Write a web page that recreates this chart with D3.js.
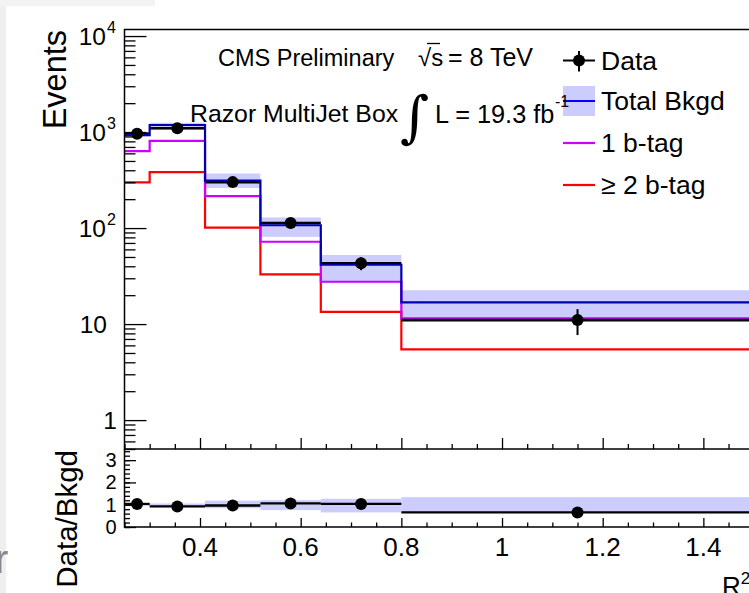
<!DOCTYPE html>
<html>
<head>
<meta charset="utf-8">
<script src="https://cdn.jsdelivr.net/npm/d3@7"></script>
<style>
  html, body { margin: 0; padding: 0; background: #fff; }
  svg { display: block; font-family: "Liberation Sans", Arial, Helvetica, sans-serif; }
</style>
</head>
<body>
<svg id="chart" width="749" height="593"></svg>
<script>
// Данные (читаются с картинки)
const binEdges = [0.25, 0.30, 0.41, 0.52, 0.64, 0.80, 1.50];
const dataCounts = [962, 1095, 301, 113, 43, 11];
const totalBkgd = [930, 1185, 312, 107, 41.5, 16.8];
const bkgdLow = [900, 1050, 262, 81, 27.2, 11.2];
const bkgdHigh = [1000, 1250, 370, 129, 52.5, 22.5];
const oneBtag = [634, 811, 215, 72, 27.6, 11.5];
const twoBtag = [299, 383, 101, 33, 13.4, 5.45];

const xTickValues = [0.4, 0.6, 0.8, 1.0, 1.2, 1.4];
const xTickLabels = ["0.4", "0.6", "0.8", "1", "1.2", "1.4"];
const yTickValues = [1, 10, 100, 1000, 10000];
const yTickBase = ["1", "10", "10", "10", "10"];
const yTickExp = ["", "", "2", "3", "4"];
const ratioTickValues = [0, 1, 2, 3];

const svg = d3.select("#chart");

// фон со следами скриншота
svg.append("rect").attr("width", 749).attr("height", 593).attr("fill", "#fff");
svg.append("rect").attr("x", 0).attr("y", 0).attr("width", 6).attr("height", 593).attr("fill", "#efefef");
svg.append("rect").attr("x", 0).attr("y", 0).attr("width", 155).attr("height", 6).attr("fill", "#f3f3f3");
svg.append("text").attr("x", -5).attr("y", 573).attr("font-size", 40).attr("fill", "#888").text("r");

// шкалы
const x = d3.scaleLinear().domain([0.25, 1.5]).range([124.5, 753.7]);
const y = d3.scaleLog().domain([0.5, 11700]).range([449, 29.5]);
const yr = d3.scaleLinear().domain([0, 3.5]).range([527, 449]);

const bins = d3.range(dataCounts.length);
const mid = (i) => x((binEdges[i] + binEdges[i + 1]) / 2);
const stepLine = (vals, ys) =>
  d3.line().curve(d3.curveStepAfter).x((d) => x(d[0])).y((d) => ys(d[1]))(
    binEdges.map((e, i) => [e, vals[Math.min(i, vals.length - 1)]])
  );

// ---- верхняя панель ----
const main = svg.append("g");

main.selectAll("rect.band").data(bins).enter().append("rect")
  .attr("x", (i) => x(binEdges[i]))
  .attr("width", (i) => x(binEdges[i + 1]) - x(binEdges[i]))
  .attr("y", (i) => y(bkgdHigh[i]))
  .attr("height", (i) => y(bkgdLow[i]) - y(bkgdHigh[i]))
  .attr("fill", "#ccccff");

main.append("path").attr("d", stepLine(twoBtag, y)).attr("fill", "none").attr("stroke", "#ff0000").attr("stroke-width", 2.2);
main.append("path").attr("d", stepLine(oneBtag, y)).attr("fill", "none").attr("stroke", "#cc00ff").attr("stroke-width", 2.2);

// горизонтальные "ошибки" данных по x
main.selectAll("line.dx").data(bins).enter().append("line")
  .attr("x1", (i) => x(binEdges[i])).attr("x2", (i) => x(binEdges[i + 1]))
  .attr("y1", (i) => y(dataCounts[i])).attr("y2", (i) => y(dataCounts[i]))
  .attr("stroke", "#000").attr("stroke-width", 2.6);

main.append("path").attr("d", stepLine(totalBkgd, y)).attr("fill", "none").attr("stroke", "#0000b0").attr("stroke-width", 2.2);

main.selectAll("line.dy").data(bins).enter().append("line")
  .attr("x1", mid).attr("x2", mid)
  .attr("y1", (i) => y(dataCounts[i] + Math.sqrt(dataCounts[i])))
  .attr("y2", (i) => y(dataCounts[i] - Math.sqrt(dataCounts[i])))
  .attr("stroke", "#000").attr("stroke-width", 2);

main.selectAll("circle").data(bins).enter().append("circle")
  .attr("cx", mid)
  .attr("cy", (i) => y(dataCounts[i]))
  .attr("r", 6).attr("fill", "#000");

// оси верхней панели
const minorLog = [];
[0.1, 1, 10, 100, 1000].forEach((d) => {
  for (let k = 2; k <= 9; k++) {
    const v = d * k;
    if (v >= 0.5 && v <= 11700) minorLog.push(v);
  }
});
main.append("g").attr("transform", "translate(124.5,0)")
  .call(d3.axisRight(y).tickValues(minorLog).tickSize(11).tickFormat(""))
  .call((g) => g.select(".domain").remove());
main.append("g").attr("transform", "translate(124.5,0)")
  .call(d3.axisRight(y).tickValues(yTickValues).tickSize(22).tickFormat(""))
  .call((g) => g.select(".domain").remove());

const xMinor = d3.range(0.25, 1.5001, 0.05).filter((v) => !xTickValues.some((t) => Math.abs(t - v) < 1e-6));
main.append("g").attr("transform", "translate(0,449)")
  .call(d3.axisTop(x).tickValues(xMinor).tickSize(5).tickFormat(""))
  .call((g) => g.select(".domain").remove());
main.append("g").attr("transform", "translate(0,449)")
  .call(d3.axisTop(x).tickValues(xTickValues).tickSize(11).tickFormat(""))
  .call((g) => g.select(".domain").remove());

svg.selectAll(".tick line").attr("stroke", "#000").attr("stroke-width", 1.3);

// рамка
main.append("path")
  .attr("d", `M753.7,449 H124.5 V29.5 H753.7`)
  .attr("fill", "none").attr("stroke", "#000").attr("stroke-width", 1.5);

// подписи оси Y
yTickValues.forEach((v, i) => {
  const t = main.append("text").attr("y", y(v) + 8.5).attr("font-size", 24.5).attr("text-anchor", "end");
  if (yTickExp[i]) {
    t.attr("x", 106).text(yTickBase[i]);
    main.append("text").attr("x", 107).attr("y", y(v) - 3).attr("font-size", 16).text(yTickExp[i]);
  } else {
    t.attr("x", v === 1 ? 117 : 107).text(yTickBase[i]);
  }
});

svg.append("text")
  .attr("transform", "translate(65.5,30) rotate(-90)")
  .attr("text-anchor", "end").attr("font-size", 32.5).text("Events");

// ---- нижняя панель (отношение) ----
const ratio = svg.append("g");
ratio.selectAll("rect").data(bins).enter().append("rect")
  .attr("x", (i) => x(binEdges[i]))
  .attr("width", (i) => x(binEdges[i + 1]) - x(binEdges[i]))
  .attr("y", (i) => yr(bkgdHigh[i] / totalBkgd[i]))
  .attr("height", (i) => yr(bkgdLow[i] / totalBkgd[i]) - yr(bkgdHigh[i] / totalBkgd[i]))
  .attr("fill", "#ccccff");

ratio.selectAll("line.rx").data(bins).enter().append("line")
  .attr("x1", (i) => x(binEdges[i])).attr("x2", (i) => x(binEdges[i + 1]))
  .attr("y1", (i) => yr(dataCounts[i] / totalBkgd[i])).attr("y2", (i) => yr(dataCounts[i] / totalBkgd[i]))
  .attr("stroke", "#000").attr("stroke-width", 2.3);

ratio.selectAll("circle").data(bins).enter().append("circle")
  .attr("cx", mid)
  .attr("cy", (i) => yr(dataCounts[i] / totalBkgd[i]))
  .attr("r", 6).attr("fill", "#000");

ratio.append("g").attr("transform", "translate(124.5,0)")
  .call(d3.axisRight(yr).tickValues(d3.range(0, 3.5001, 0.2)).tickSize(5.5).tickFormat(""))
  .call((g) => g.select(".domain").remove());
ratio.append("g").attr("transform", "translate(124.5,0)")
  .call(d3.axisRight(yr).tickValues(ratioTickValues).tickSize(11.5).tickFormat(""))
  .call((g) => g.select(".domain").remove());
ratio.append("g").attr("transform", "translate(0,527)")
  .call(d3.axisTop(x).tickValues(xMinor).tickSize(4.5).tickFormat(""))
  .call((g) => g.select(".domain").remove());
ratio.append("g").attr("transform", "translate(0,527)")
  .call(d3.axisTop(x).tickValues(xTickValues).tickSize(9).tickFormat(""))
  .call((g) => g.select(".domain").remove());
ratio.selectAll(".tick line").attr("stroke", "#000").attr("stroke-width", 1.3);

ratio.append("path")
  .attr("d", `M124.5,449 V527 H753.7`)
  .attr("fill", "none").attr("stroke", "#000").attr("stroke-width", 1.5);

ratioTickValues.forEach((v) => {
  ratio.append("text").attr("x", 116.5).attr("y", yr(v) + 7)
    .attr("font-size", 20).attr("text-anchor", "end").text(v);
});

xTickValues.forEach((v, i) => {
  ratio.append("text").attr("x", x(v)).attr("y", 556)
    .attr("font-size", 26).attr("text-anchor", "middle").text(xTickLabels[i]);
});

svg.append("text")
  .attr("transform", "translate(77,450) rotate(-90)")
  .attr("text-anchor", "end").attr("font-size", 29.5).text("Data/Bkgd");

const r2 = svg.append("text").attr("x", 722).attr("y", 595).attr("font-size", 26);
r2.append("tspan").text("R");
r2.append("tspan").attr("dy", -11).attr("font-size", 17).text("2");

// ---- подписи CMS ----
svg.append("text").attr("x", 218).attr("y", 66).attr("font-size", 23.5).text("CMS Preliminary");
svg.append("text").attr("x", 418).attr("y", 66).attr("font-size", 24).text("\u221As");
svg.append("line").attr("x1", 427).attr("x2", 440).attr("y1", 43.5).attr("y2", 43.5).attr("stroke", "#000").attr("stroke-width", 1.3);
svg.append("text").attr("x", 448).attr("y", 66).attr("font-size", 25).text("= 8 TeV");

svg.append("text").attr("x", 190).attr("y", 122).attr("font-size", 24.8).text("Razor MultiJet Box");
svg.append("text").attr("x", 400).attr("y", 136).attr("font-size", 56).attr("font-family", "DejaVu Serif").text("\u222B");
svg.append("text").attr("x", 435).attr("y", 123).attr("font-size", 25.3).text("L = 19.3 fb");

// ---- легенда ----
const leg = svg.append("g");
leg.append("rect").attr("x", 563).attr("y", 86).attr("width", 32).attr("height", 30).attr("fill", "#ccccff");
leg.append("line").attr("x1", 563).attr("x2", 595).attr("y1", 101).attr("y2", 101).attr("stroke", "#0000ff").attr("stroke-width", 2);
svg.append("text").attr("x", 555).attr("y", 107).attr("font-size", 16).text("-1");
leg.append("line").attr("x1", 563).attr("x2", 595).attr("y1", 60.5).attr("y2", 60.5).attr("stroke", "#000").attr("stroke-width", 2);
leg.append("line").attr("x1", 579).attr("x2", 579).attr("y1", 51).attr("y2", 71.5).attr("stroke", "#000").attr("stroke-width", 2);
leg.append("circle").attr("cx", 579).attr("cy", 60.5).attr("r", 6).attr("fill", "#000");
leg.append("line").attr("x1", 563).attr("x2", 595).attr("y1", 143).attr("y2", 143).attr("stroke", "#cc00ff").attr("stroke-width", 2.2);
leg.append("line").attr("x1", 563).attr("x2", 595).attr("y1", 185).attr("y2", 185).attr("stroke", "#ff0000").attr("stroke-width", 2.2);

const legendLabels = ["Data", "Total Bkgd", "1 b-tag", "\u2265 2 b-tag"];
const legendBase = [69.5, 110, 152, 194];
legendLabels.forEach((t, i) => {
  leg.append("text").attr("x", 601).attr("y", legendBase[i]).attr("font-size", 26.5).text(t);
});
</script>
</body>
</html>
